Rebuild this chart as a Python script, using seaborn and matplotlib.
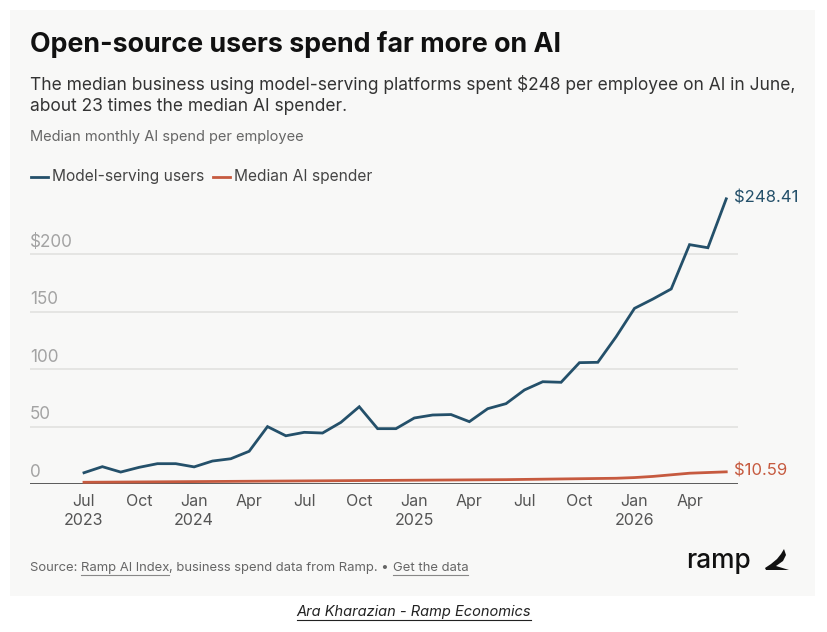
import matplotlib
matplotlib.use("Agg")
import matplotlib.pyplot as plt
import seaborn as sns
import pandas as pd
import numpy as np
from matplotlib.patches import Rectangle, Polygon
import matplotlib.transforms as mtransforms

# ---- data ----
months = list(range(36))  # Jul 2023 .. Jun 2026
model_serving = [9.8, 15.1, 10.4, 14.5, 17.7, 17.7, 14.9, 20.0, 22.0, 28.5,
                 50.0, 42.0, 45.0, 44.4, 53.7, 67.3, 48.2, 48.2, 57.5, 60.1,
                 60.5, 54.3, 65.6, 70.0, 81.9, 89.1, 88.6, 105.7, 106.0, 128.3,
                 153.0, 161.1, 169.9, 208.5, 205.8, 248.41]
median_spender = [1.5, 1.6, 1.7, 1.8, 1.9, 2.0, 2.1, 2.2, 2.3, 2.4,
                  2.5, 2.6, 2.7, 2.8, 2.9, 3.0, 3.1, 3.2, 3.3, 3.4,
                  3.5, 3.6, 3.7, 3.8, 4.0, 4.2, 4.4, 4.6, 4.8, 5.0,
                  5.6, 6.6, 8.0, 9.4, 10.0, 10.59]
series_names = ["Model-serving users", "Median AI spender"]
colors = ["#24506a", "#c65a3f"]
xtick_pos = [0, 3, 6, 9, 12, 15, 18, 21, 24, 27, 30, 33]
xtick_labels = ["Jul\n2023", "Oct", "Jan\n2024", "Apr", "Jul", "Oct",
                "Jan\n2025", "Apr", "Jul", "Oct", "Jan\n2026", "Apr"]
ytick_pos = [0, 50, 100, 150, 200]
ytick_labels = ["0", "50", "100", "150", "$200"]
end_labels = ["$248.41", "$10.59"]

df = pd.DataFrame({
    "month": months * 2,
    "value": model_serving + median_spender,
    "series": [series_names[0]] * 36 + [series_names[1]] * 36,
})

FONT = ["Inter", "Roboto", "DejaVu Sans"]
plt.rcParams["font.family"] = FONT

W, H = 828, 632
fig = plt.figure(figsize=(W / 100, H / 100), dpi=100)
fig.patch.set_facecolor("white")

def fx(px):
    return px / W

def fy(py):
    return 1 - py / H

# panel background
panel = Rectangle((fx(10), fy(596)), fx(815) - fx(10), fy(10) - fy(596),
                  transform=fig.transFigure, facecolor="#f8f8f7",
                  edgecolor="none", zorder=-10)
fig.add_artist(panel)

# axes
ax_l, ax_r, ax_b, ax_t = 30, 738, 484, 190
ax = fig.add_axes([fx(ax_l), fy(ax_b), fx(ax_r) - fx(ax_l), fy(ax_t) - fy(ax_b)])
ax.set_zorder(5)
ax.set_facecolor("none")
px_per_month = 18.35
x0 = 84
ax.set_xlim(-(x0 - ax_l) / px_per_month, 35 + (ax_r - (x0 + 35 * px_per_month)) / px_per_month)
ax.set_ylim(0, (ax_b - ax_t) / 1.148)

sns.lineplot(data=df, x="month", y="value", hue="series", palette=colors,
             hue_order=series_names, linewidth=2.0, ax=ax, legend=False)
for ln in ax.lines:
    ln.set_clip_on(False)
    ln.set_solid_joinstyle("miter")

for s in ax.spines.values():
    s.set_visible(False)
ax.set_xlabel("")
ax.set_ylabel("")
ax.set_yticks(ytick_pos)
ax.set_yticklabels([])
ax.tick_params(axis="y", length=0)
ax.grid(axis="y", color="#e2e2e0", linewidth=1.2)
ax.set_axisbelow(True)
ax.axhline(0, color="#444444", linewidth=1.2, zorder=1.5)
ax.set_xticks(xtick_pos)
ax.set_xticklabels(xtick_labels, fontsize=11.5, color="#555555", linespacing=1.35)
ax.tick_params(axis="x", length=0, pad=7)

ytrans = mtransforms.blended_transform_factory(ax.transAxes, ax.transData)
for yv, lab in zip(ytick_pos, ytick_labels):
    ax.text(0, yv + 3, lab, transform=ytrans, ha="left", va="bottom",
            fontsize=12.3, color="#a3a3a3")

# end labels
ax.text(months[-1] + 0.4, model_serving[-1] + 1, end_labels[0], color=colors[0],
        fontsize=12, ha="left", va="center", clip_on=False)
ax.text(months[-1] + 0.4, median_spender[-1] + 1, end_labels[1], color=colors[1],
        fontsize=12, ha="left", va="center", clip_on=False)

# titles
fig.text(fx(30), fy(45), "Open-source users spend far more on AI", fontsize=19.3,
         fontweight="bold", color="#111111", ha="left", va="center")
fig.text(fx(30), fy(95),
         "The median business using model-serving platforms spent $248 per employee on AI in June,\n"
         "about 23 times the median AI spender.",
         fontsize=12.5, color="#333333", ha="left", va="center", linespacing=1.3)
fig.text(fx(30), fy(137), "Median monthly AI spend per employee", fontsize=10.5,
         color="#666666", ha="left", va="center")

fig.canvas.draw()
renderer = fig.canvas.get_renderer()

# legend
ly = fy(177)
xcur = fx(31)
for name, col in zip(series_names, colors):
    fig.add_artist(plt.Line2D([xcur, xcur + fx(17)], [ly, ly], transform=fig.transFigure,
                              color=col, linewidth=2))
    t = fig.text(xcur + fx(21), ly, name, fontsize=11.2, color="#444444", ha="left", va="center")
    bb = t.get_window_extent(renderer)
    xcur = bb.x1 / W + fx(9)

# source line
sy = fy(568)
parts = [("Source: ", False), ("Ramp AI Index", True),
         (", business spend data from Ramp. \u2022 ", False), ("Get the data", True)]
xcur = fx(30)
for txt, und in parts:
    t = fig.text(xcur, sy, txt, fontsize=9.4, color="#666666", ha="left", va="center")
    bb = t.get_window_extent(renderer)
    w = bb.width / W
    if und:
        fig.add_artist(plt.Line2D([xcur, xcur + w], [sy - 7 / H, sy - 7 / H],
                                  transform=fig.transFigure, color="#888888", linewidth=0.8))
    xcur += w

# logo
fig.text(fx(686), fy(561), "ramp", fontsize=19, fontweight="medium", color="#111111",
         ha="left", va="center")
logo_pts = [(784, 549), (786, 555), (783, 561), (776, 566), (789, 570), (766, 570),
            (765, 568), (771, 564), (777, 559), (781, 554)]
logo = Polygon([(fx(a), fy(b)) for a, b in logo_pts],
               closed=True, transform=fig.transFigure, facecolor="#111111", edgecolor="none")
fig.add_artist(logo)

# caption
ct = fig.text(0.5, fy(612), "Ara Kharazian - Ramp Economics", fontsize=10.5, style="italic",
              color="#222222", ha="center", va="center")
bb = ct.get_window_extent(renderer)
fig.add_artist(plt.Line2D([bb.x0 / W, bb.x1 / W], [fy(620), fy(620)],
                          transform=fig.transFigure, color="#222222", linewidth=0.8))

fig.savefig("out.png", dpi=100, facecolor="white")
